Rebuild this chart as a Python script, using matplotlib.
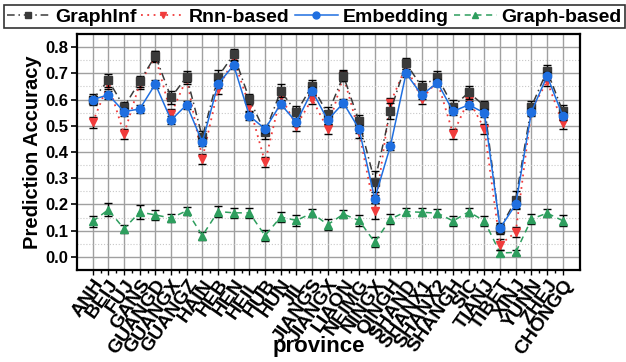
import matplotlib
matplotlib.use("Agg")
import matplotlib.pyplot as plt
from matplotlib.ticker import MultipleLocator
from matplotlib.lines import Line2D
import numpy as np

plt.rcParams['font.family'] = ['Liberation Sans', 'DejaVu Sans']
plt.rcParams['font.weight'] = 'bold'

provinces = ["ANH", "BEIJ", "FUJ", "GANS", "GUANGD", "GUANGX", "GUANGZ", "HAIN",
             "HEB", "HEN", "HEIL", "HUB", "HUN", "JIL", "JIANGS", "JIANGX",
             "LIAON", "NEIMG", "NINGX", "QINGH", "SHAND", "SHANX1", "SHANX2",
             "SHANGH", "SIC", "TIANJ", "TIBET", "XINJ", "YUNN", "ZHEJ", "CHONGQ"]

graphinf = [0.600, 0.674, 0.572, 0.669, 0.767, 0.608, 0.687, 0.456, 0.687, 0.772,
            0.602, 0.475, 0.633, 0.551, 0.653, 0.545, 0.691, 0.517, 0.287, 0.555,
            0.738, 0.649, 0.687, 0.573, 0.627, 0.576, 0.108, 0.218, 0.573, 0.710, 0.555]
graphinf_err = [0.020, 0.025, 0.020, 0.020, 0.020, 0.025, 0.020, 0.025, 0.025, 0.020,
                0.020, 0.025, 0.025, 0.025, 0.020, 0.025, 0.020, 0.025, 0.040, 0.030,
                0.020, 0.020, 0.020, 0.025, 0.025, 0.020, 0.020, 0.035, 0.020, 0.020, 0.025]

rnn = [0.513, 0.660, 0.469, 0.660, 0.765, 0.545, 0.680, 0.374, 0.640, 0.754,
       0.576, 0.361, 0.614, 0.500, 0.602, 0.488, 0.690, 0.475, 0.176, 0.587,
       0.727, 0.602, 0.670, 0.469, 0.600, 0.488, 0.047, 0.094, 0.560, 0.670, 0.509]
rnn_err = [0.020, 0.020, 0.020, 0.020, 0.020, 0.020, 0.020, 0.020, 0.020, 0.020,
           0.020, 0.020, 0.020, 0.020, 0.020, 0.020, 0.020, 0.020, 0.030, 0.020,
           0.020, 0.020, 0.020, 0.020, 0.020, 0.020, 0.020, 0.020, 0.020, 0.020, 0.020]

embedding = [0.600, 0.618, 0.554, 0.564, 0.659, 0.522, 0.580, 0.437, 0.659, 0.731,
             0.538, 0.488, 0.583, 0.513, 0.633, 0.522, 0.587, 0.488, 0.222, 0.423,
             0.700, 0.617, 0.665, 0.555, 0.580, 0.549, 0.110, 0.200, 0.553, 0.690, 0.538]
embedding_err = [0.015] * 31

graph_based = [0.135, 0.180, 0.107, 0.171, 0.160, 0.148, 0.176, 0.081, 0.173, 0.168,
               0.168, 0.081, 0.152, 0.139, 0.167, 0.123, 0.163, 0.139, 0.056, 0.144,
               0.173, 0.170, 0.167, 0.137, 0.172, 0.137, 0.015, 0.017, 0.144, 0.167, 0.138]
graph_based_err = [0.020, 0.025, 0.015, 0.025, 0.020, 0.015, 0.015, 0.015, 0.020, 0.020,
                   0.020, 0.020, 0.020, 0.020, 0.015, 0.020, 0.015, 0.020, 0.020, 0.020,
                   0.015, 0.015, 0.015, 0.020, 0.015, 0.020, 0.010, 0.010, 0.020, 0.015, 0.020]

yticks = [0.0, 0.1, 0.2, 0.3, 0.4, 0.5, 0.6, 0.7, 0.8]

# series styles: label -> (values, errors, colour, linestyle, marker, zorder)
styles = {
    'GraphInf': (graphinf, graphinf_err, '#3a3a3a', (0, (5, 2.5, 1, 2.5)), 's', 5),
    'Rnn-based': (rnn, rnn_err, '#f03c3c', (0, (1, 2.5)), 'v', 4),
    'Embedding': (embedding, embedding_err, '#1f6fe0', '-', 'o', 6),
    'Graph-based': (graph_based, graph_based_err, '#2e9e5e', (0, (4, 3)), '^', 3),
}

W, H = 626, 362
fig = plt.figure(figsize=(W / 100, H / 100), dpi=100)
ax = fig.add_axes([77 / W, (H - 270) / H, (580 - 77) / W, (270 - 34) / H])

x = np.arange(len(provinces))
legend_handles = []
for name, (vals, errs, col, ls, mk, z) in styles.items():
    lw = 1.3 if ls == (0, (1, 2.5)) else 1.1
    ax.errorbar(x, vals, yerr=errs, color=col, ls=ls, lw=lw, marker=mk, ms=6,
                ecolor='black', elinewidth=1.0, capsize=3, capthick=1.0, zorder=z)
    legend_handles.append(Line2D([], [], color=col, ls=ls, lw=lw, marker=mk, ms=5))

ax.set_xlim(-1.0, 31.1)
ax.set_ylim(-0.05, 0.85)
ax.yaxis.set_minor_locator(MultipleLocator(0.05))
ax.set_xticks(x)
ax.set_xticks(x[:-1] + 0.5, minor=True)
ax.set_xticklabels(provinces, rotation=55, ha='right', va='top',
                   rotation_mode='anchor', fontsize=14, fontweight='bold')
ax.set_yticks(yticks)
ax.set_yticklabels([f"{v:.1f}" for v in yticks], fontsize=12, fontweight='bold')

ax.grid(which='major', color='#a0a0a0', lw=1.0, ls='-')
ax.grid(which='minor', axis='y', color='#c8c8c8', lw=0.8, ls=':')
ax.set_axisbelow(True)

ax.tick_params(axis='y', which='major', direction='out', length=4, width=1.2, pad=2)
ax.tick_params(axis='y', which='minor', length=0)
ax.tick_params(axis='x', which='major', direction='out', length=3.5, width=1.0, pad=1)
ax.tick_params(axis='x', which='minor', direction='out', length=2, width=1.0)
for s in ax.spines.values():
    s.set_linewidth(1.6)
    s.set_color('black')

ax.set_ylabel('Prediction Accuracy', fontsize=14.5, fontweight='bold', labelpad=3)
ax.set_xlabel('province', fontsize=16, fontweight='bold', va='baseline')
ax.xaxis.set_label_coords(0.48, (270 - 352) / (270 - 34))

leg = fig.legend(legend_handles, list(styles.keys()),
                 loc='upper left', bbox_to_anchor=(4 / W, 1 - 5 / H), ncol=4,
                 prop={'size': 14, 'weight': 'bold'}, frameon=True, fancybox=False,
                 handlelength=2.2, handletextpad=0.26, columnspacing=0.26,
                 borderpad=0.15, borderaxespad=0)
leg.get_frame().set_edgecolor('black')
leg.get_frame().set_linewidth(1.2)

fig.savefig('out.png', dpi=100)
